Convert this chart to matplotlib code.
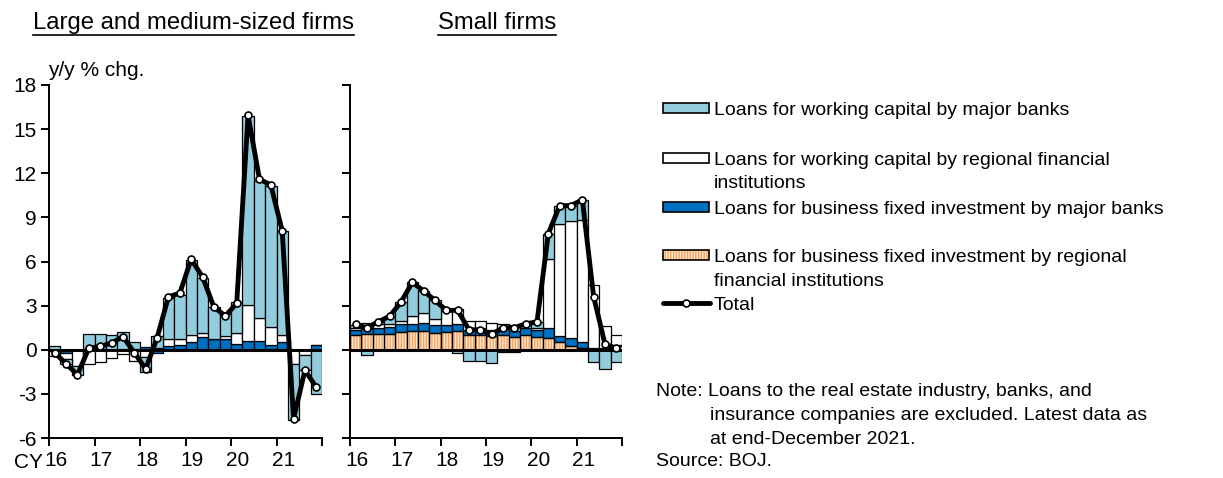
import numpy as np
import matplotlib
matplotlib.use('Agg')
import matplotlib.pyplot as plt
from matplotlib.patches import Rectangle
from matplotlib.lines import Line2D

plt.rcParams['font.family'] = ['Liberation Sans', 'DejaVu Sans']

# 2016Q1 .. 2021Q4
years = ['16', '17', '18', '19', '20', '21']

# Large and medium-sized firms
lm_wc_major = [0.25, -0.3, -0.6, 1.0, 1.0, 1.0, 1.15, 0.5, -1.0, 0.8, 2.8, 3.0,
               5.1, 3.7, 2.15, 1.45, 2.1, 12.85, 9.3, 9.6, 7.1, -3.8, -1.05, -3.0]
lm_wc_regional = [-0.3, -0.45, -1.1, -0.95, -0.8, -0.55, -0.3, -0.75, -0.5, 0.15, 0.45, 0.45,
                  0.5, 0.25, 0.05, 0.2, 0.75, 2.45, 1.55, 1.2, 0.5, -1.0, -0.35, 0.0]
lm_bfi_major = [-0.1, -0.2, 0.0, 0.05, 0.05, 0.0, 0.05, 0.05, 0.2, -0.25, 0.25, 0.3,
                0.5, 0.9, 0.7, 0.75, 0.4, 0.6, 0.6, 0.35, 0.5, 0.0, 0.0, 0.35]
lm_bfi_regional = [0.0] * 24
lm_total = [-0.2, -0.95, -1.7, 0.1, 0.23, 0.45, 0.9, -0.2, -1.3, 0.8, 3.6, 3.85,
            6.15, 4.95, 2.9, 2.3, 3.15, 15.95, 11.6, 11.2, 8.1, -4.7, -1.4, -2.55]

# Small firms
sm_wc_major = [0.2, -0.35, 0.15, 0.5, 1.3, 2.3, 1.5, 1.25, -0.05, -0.2, -0.78, -0.78,
               -0.9, -0.15, 0.4, 0.27, 0.45, 1.7, 1.25, 1.05, 1.4, -0.85, -1.3, -0.85]
sm_wc_regional = [0.15, 0.35, 0.27, 0.22, 0.22, 0.55, 0.65, 0.45, 1.0, 1.0, 0.6, 0.5,
                  0.5, 0.27, -0.18, -0.05, 0.1, 4.73, 7.6, 7.95, 8.25, 4.3, 1.5, 0.65]
sm_bfi_major = [0.35, 0.4, 0.35, 0.45, 0.55, 0.5, 0.6, 0.5, 0.45, 0.5, 0.33, 0.45,
                0.38, 0.45, 0.38, 0.45, 0.45, 0.65, 0.45, 0.55, 0.45, 0.05, 0.05, 0.1]
sm_bfi_regional = [1.0, 1.05, 1.1, 1.1, 1.2, 1.25, 1.25, 1.15, 1.2, 1.25, 1.0, 1.0,
                   0.96, 1.0, 0.9, 1.0, 0.9, 0.8, 0.5, 0.25, 0.1, 0.05, 0.05, 0.25]
sm_total = [1.72, 1.5, 1.9, 2.28, 3.24, 4.58, 4.0, 3.35, 2.68, 2.68, 1.36, 1.36,
            1.05, 1.5, 1.5, 1.76, 1.9, 7.9, 9.8, 9.8, 10.2, 3.6, 0.38, 0.1]

legend_labels = ['Loans for working capital by major banks',
                 'Loans for working capital by regional financial\ninstitutions',
                 'Loans for business fixed investment by major banks',
                 'Loans for business fixed investment by regional\nfinancial institutions',
                 'Total']

C_LIGHT = '#93CDDD'
C_WHITE = 'white'
C_BLUE = '#0070C0'
C_ORANGE = '#F7A35C'
C_ORANGE_BG = '#FDE6D2'

W, H = 1223, 478
fig = plt.figure(figsize=(W / 100, H / 100), dpi=100)


def fx(px):
    return px / W


def fy(py):
    return 1 - py / H


def draw_panel(ax, series, total, show_labels):
    x = np.arange(24)
    pos_base = np.zeros(24)
    neg_base = np.zeros(24)
    # stacking order from zero outward: regional BFI, major BFI, regional WC, major WC
    for vals, col, hatched in series:
        v = np.array(vals, dtype=float)
        base = np.where(v >= 0, pos_base, neg_base)
        if hatched:
            ax.bar(x, v, width=1.0, bottom=base, color=C_ORANGE_BG, edgecolor=C_ORANGE,
                   hatch='||||||', linewidth=0, zorder=2)
            ax.bar(x, v, width=1.0, bottom=base, fill=False, edgecolor='black',
                   linewidth=0.9, zorder=2.1)
        else:
            ax.bar(x, v, width=1.0, bottom=base, color=col, edgecolor='black',
                   linewidth=0.9, zorder=2)
        pos_base = pos_base + np.where(v >= 0, v, 0)
        neg_base = neg_base + np.where(v < 0, v, 0)

    ax.axhline(0, color='black', linewidth=2.2, zorder=3)
    ax.plot(x, total, color='black', linewidth=3.5, zorder=4, solid_joinstyle='round',
            marker='o', markersize=5, markerfacecolor='white', markeredgecolor='black',
            markeredgewidth=1.2)

    ax.set_xlim(-0.5, 23.5)
    ax.set_ylim(-6, 18)
    ax.set_yticks(np.arange(-6, 19, 3))
    if show_labels:
        ax.set_yticklabels([str(v) for v in range(-6, 19, 3)])
    else:
        ax.set_yticklabels([])
    ax.set_xticks(np.arange(-0.5, 24, 4))
    ax.set_xticklabels([])
    ax.set_xticks(np.arange(-0.5, 23, 4) + 0.6, minor=True)
    ax.set_xticklabels(years, minor=True)
    ax.tick_params(axis='x', which='minor', length=0, pad=9, labelsize=15)
    ax.tick_params(axis='x', which='major', direction='out', length=6, width=1.4)
    ax.tick_params(axis='y', direction='out', length=6, width=1.4, labelsize=15, pad=3)
    for s in ['top', 'right']:
        ax.spines[s].set_visible(False)
    for s in ['left', 'bottom']:
        ax.spines[s].set_linewidth(1.4)


ax1 = fig.add_axes([fx(49), fy(438), fx(273), fy(85) - fy(438)])
ax2 = fig.add_axes([fx(350), fy(438), fx(272), fy(85) - fy(438)])

draw_panel(ax1, [(lm_bfi_regional, None, True), (lm_bfi_major, C_BLUE, False),
                 (lm_wc_regional, C_WHITE, False), (lm_wc_major, C_LIGHT, False)],
           lm_total, True)
draw_panel(ax2, [(sm_bfi_regional, None, True), (sm_bfi_major, C_BLUE, False),
                 (sm_wc_regional, C_WHITE, False), (sm_wc_major, C_LIGHT, False)],
           sm_total, False)

fig.text(fx(14), fy(462), 'CY', fontsize=15, va='center', ha='left')
fig.text(fx(48), fy(70), 'y/y % chg.', fontsize=15, va='center', ha='left')

# panel titles, underlined
for txt, x0 in [('Large and medium-sized firms', 33), ('Small firms', 438)]:
    t = fig.text(fx(x0), fy(23), txt, fontsize=17.2, va='center', ha='left')
    fig.canvas.draw()
    bb = t.get_window_extent()
    fig.add_artist(Line2D([bb.x0 / W, bb.x1 / W], [fy(35), fy(35)],
                          color='black', linewidth=1.2, transform=fig.transFigure))

# legend drawn by hand
hx0, hx1, hh = 663, 709, 10
tx = 714
rows = [108, 158, 207, 255, 303]
styles = [(C_LIGHT, False), (C_WHITE, False), (C_BLUE, False), (None, True)]
for (col, hatched), ry in zip(styles, rows[:4]):
    rect = (fx(hx0), fy(ry + hh / 2))
    rw, rh = fx(hx1 - hx0), fy(ry - hh / 2) - fy(ry + hh / 2)
    if hatched:
        fig.add_artist(Rectangle(rect, rw, rh, facecolor=C_ORANGE_BG, edgecolor=C_ORANGE,
                                 hatch='||||||', linewidth=0, transform=fig.transFigure))
        fig.add_artist(Rectangle(rect, rw, rh, fill=False, edgecolor='black',
                                 linewidth=1.2, transform=fig.transFigure))
    else:
        fig.add_artist(Rectangle(rect, rw, rh, facecolor=col, edgecolor='black',
                                 linewidth=1.2, transform=fig.transFigure))
fig.add_artist(Line2D([fx(hx0), fx(hx1 + 1)], [fy(rows[4]), fy(rows[4])], color='black', linewidth=3.5,
                      solid_capstyle='round', transform=fig.transFigure))
fig.add_artist(Line2D([fx((hx0 + hx1) / 2)], [fy(rows[4])], marker='o', markersize=5,
                      markerfacecolor='white', markeredgecolor='black', markeredgewidth=1.2,
                      transform=fig.transFigure))
for lab, ry in zip(legend_labels, rows):
    fig.text(fx(tx), fy(ry - 6), lab, fontsize=14, va='top', ha='left', linespacing=1.5)

note_lines = [(656, 391, 'Note: Loans to the real estate industry, banks, and'),
              (710, 415, 'insurance companies are excluded. Latest data as'),
              (710, 440, 'at end-December 2021.'),
              (656, 462, 'Source: BOJ.')]
for nx, ny, txt in note_lines:
    fig.text(fx(nx), fy(ny), txt, fontsize=14, va='center', ha='left')

fig.savefig('out.png', dpi=100)
